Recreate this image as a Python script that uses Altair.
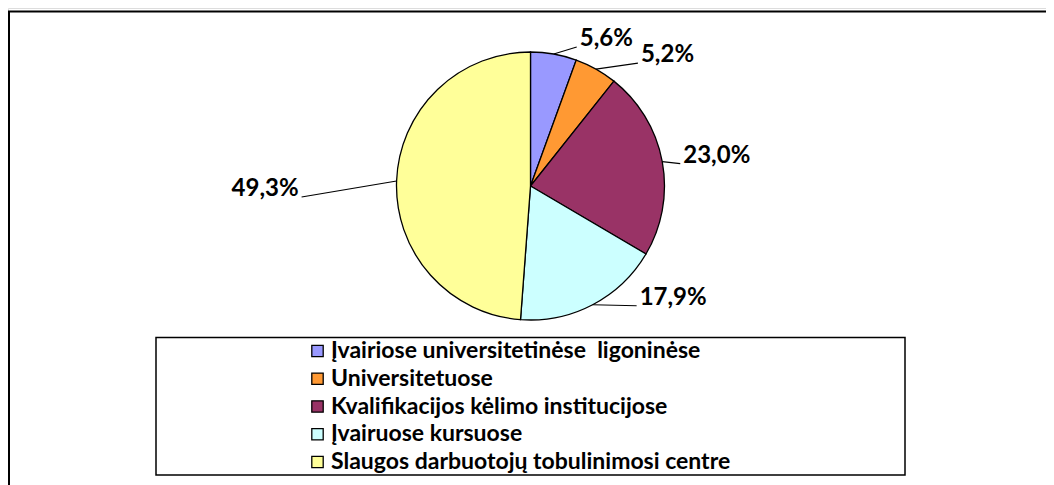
import math
import altair as alt
import pandas as pd

# ---- data ----
categories = [
    "\u00a0Įvairiose universitetinėse\u00a0 ligoninėse",
    "Universitetuose",
    "Kvalifikacijos kėlimo institucijose",
    "Įvairuose kursuose",
    "Slaugos darbuotojų tobulinimosi centre",
]
values = [5.6, 5.2, 23.0, 17.9, 49.3]
labels = ["5,6%", "5,2%", "23,0%", "17,9%", "49,3%"]
colors = ["#9999FF", "#FF9933", "#993366", "#CCFFFF", "#FFFF99"]

# ---- layout ----
W, H = 1038, 477
CX, CY, R = 522.5, 178.0, 134.0
# leader-line end offsets relative to the slice edge point (manual label placement)
leader_offsets = [(23, -7), (42, -6), (18, 2), (44, 1), (-95, 16)]

df = pd.DataFrame({"cat": categories, "value": values, "label": labels,
                   "idx": list(range(len(values)))})

total = sum(values)
rows = []
cum = 0.0
for i, v in enumerate(values):
    mid = (cum + v / 2) / total * 2 * math.pi
    cum += v
    ex = CX + R * math.sin(mid)
    ey = CY - R * math.cos(mid)
    dx, dy = leader_offsets[i]
    lx, ly = ex + dx, ey + dy
    side = "right" if dx >= 0 else "left"
    tx = lx + 3 if side == "right" else lx - 3
    rows.append({"label": labels[i], "x0": ex, "y0": ey, "x1": lx, "y1": ly,
                 "tx": tx, "ty": ly - 8, "side": side})
lab = pd.DataFrame(rows)

FONT = "Lato"
one = pd.DataFrame({"a": [0]})

frame_left = alt.Chart(one).mark_rule(color="black", strokeWidth=2).encode(
    x=alt.value(1), y=alt.value(3.5), y2=alt.value(H + 5))
frame_top = alt.Chart(one).mark_rule(color="black", strokeWidth=2).encode(
    x=alt.value(0), x2=alt.value(W + 5), y=alt.value(3.5))

legend_box = alt.Chart(one).mark_rect(
    fill="white", stroke="black", strokeWidth=1.5
).encode(x=alt.value(148), x2=alt.value(897), y=alt.value(329.5), y2=alt.value(467))

pie = alt.Chart(df).mark_arc(outerRadius=R, stroke="black", strokeWidth=1.3).encode(
    theta=alt.Theta("value:Q", stack=True),
    color=alt.Color(
        "cat:N",
        scale=alt.Scale(domain=categories, range=colors),
        sort=categories,
        legend=alt.Legend(
            orient="none", legendX=298, legendY=331.5, title=None,
            symbolType="square", symbolSize=130, symbolStrokeColor="black",
            symbolStrokeWidth=1.3, symbolOpacity=1,
            labelFont=FONT, labelFontSize=23, labelFontWeight="bold",
            labelColor="black", labelLimit=0, labelOffset=2, rowPadding=3.75,
            padding=0,
        ),
    ),
    order=alt.Order("idx:Q"),
    x=alt.value(CX), y=alt.value(CY),
)

leaders = alt.Chart(lab).mark_rule(color="black", strokeWidth=1.2).encode(
    x=alt.X("x0:Q", scale=None), y=alt.Y("y0:Q", scale=None),
    x2="x1:Q", y2="y1:Q",
)

txt_r = alt.Chart(lab).transform_filter(alt.datum.side == "right").mark_text(
    align="left", baseline="middle", font=FONT, fontSize=24, fontWeight="bold", color="black"
).encode(x=alt.X("tx:Q", scale=None), y=alt.Y("ty:Q", scale=None), text="label:N")

txt_l = alt.Chart(lab).transform_filter(alt.datum.side == "left").mark_text(
    align="right", baseline="middle", font=FONT, fontSize=24, fontWeight="bold", color="black"
).encode(x=alt.X("tx:Q", scale=None), y=alt.Y("ty:Q", scale=None), text="label:N")

chart = alt.layer(frame_left, frame_top, legend_box, pie, leaders, txt_r, txt_l).properties(
    width=W, height=H, autosize=alt.AutoSizeParams(type="none"), padding=0
).configure_view(stroke=None).configure(background="white")

chart.save("out.html", embed_options={"renderer": "svg", "actions": False})
